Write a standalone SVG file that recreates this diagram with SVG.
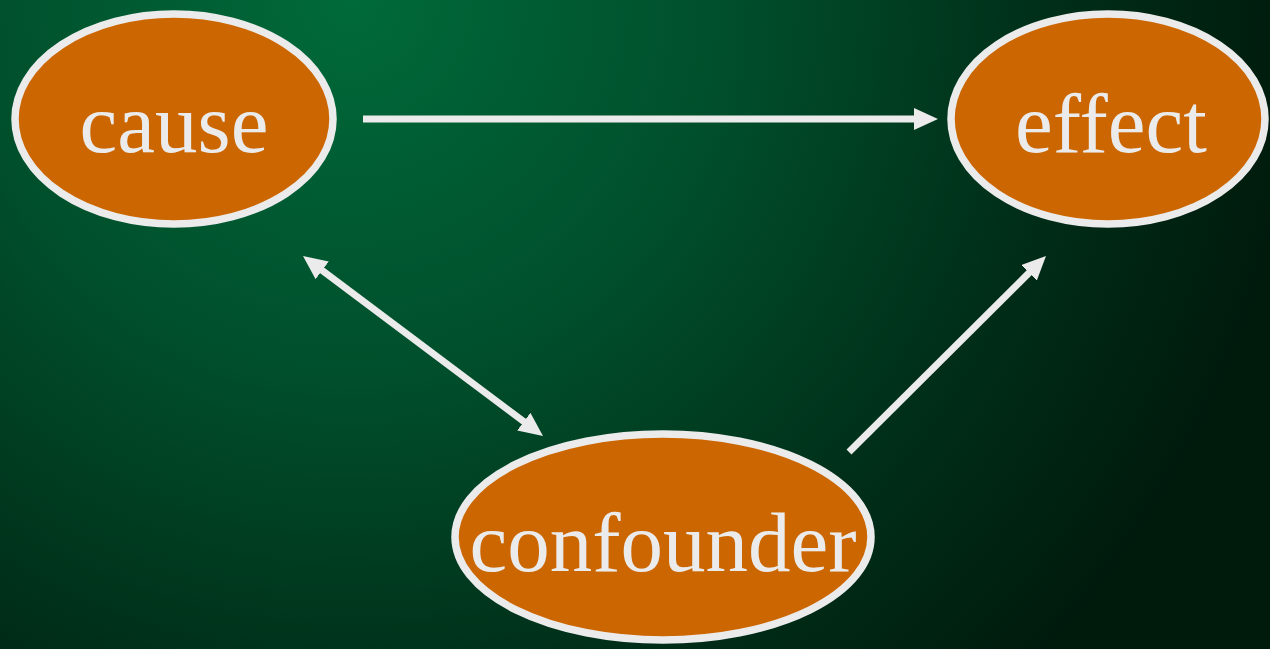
<svg xmlns="http://www.w3.org/2000/svg" width="1270" height="649" viewBox="0 0 1270 649">
  <defs>
    <radialGradient id="bg" gradientUnits="userSpaceOnUse" cx="350" cy="0" r="960">
      <stop offset="0" stop-color="#006a3a"/>
      <stop offset="0.4" stop-color="#004e2b"/>
      <stop offset="0.72" stop-color="#002f19"/>
      <stop offset="1" stop-color="#001a0c"/>
    </radialGradient>
    <marker id="head" markerUnits="userSpaceOnUse" markerWidth="24" markerHeight="22" refX="2" refY="11" orient="auto-start-reverse" viewBox="0 0 24 22">
      <path d="M0,0 L24,11 L0,22 Z" fill="#ebebeb"/>
    </marker>
    <style>
      .node ellipse { fill: #cc6600; stroke: #ebebeb; stroke-width: 7.5; }
      .node text { font-family: "Liberation Serif", "Times New Roman", serif; font-size: 85px; fill: #ebebeb; text-anchor: middle; }
      .edge { stroke: #ebebeb; stroke-width: 7; fill: none; }
    </style>
  </defs>

  <rect x="0" y="0" width="1270" height="649" fill="url(#bg)"/>

  <g id="connectors">
    <line class="edge" x1="363" y1="119" x2="916" y2="119" marker-end="url(#head)"/>
    <line class="edge" x1="320.6" y1="269.2" x2="525.4" y2="422.8" marker-start="url(#head)" marker-end="url(#head)"/>
    <line class="edge" x1="849" y1="452" x2="1030.4" y2="271.5" marker-end="url(#head)"/>
  </g>

  <g id="cause" class="node">
    <ellipse cx="174" cy="119" rx="159" ry="105"/>
    <text x="174" y="152">cause</text>
  </g>

  <g id="effect" class="node">
    <ellipse cx="1108" cy="119" rx="157" ry="105"/>
    <text x="1111" y="152">effect</text>
  </g>

  <g id="confounder" class="node">
    <ellipse cx="663" cy="537" rx="208" ry="103"/>
    <text x="663" y="571">confounder</text>
  </g>
</svg>
